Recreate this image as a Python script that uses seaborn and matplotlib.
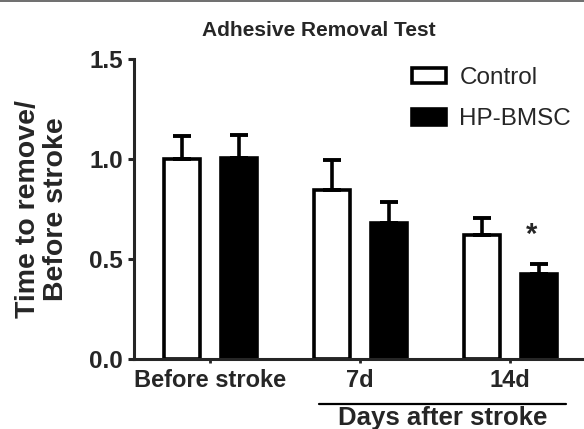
import numpy as np
import pandas as pd
import matplotlib
matplotlib.use("Agg")
import matplotlib.pyplot as plt
from matplotlib.patches import Patch
import matplotlib.transforms as mtransforms
import seaborn as sns

# values (mean and upper SEM)
groups = ["Before stroke", "7d", "14d"]
treatments = ["Control", "HP-BMSC"]
control_mean = [1.00, 0.845, 0.62]
control_sem = [0.115, 0.15, 0.085]
hp_mean = [1.005, 0.68, 0.425]
hp_sem = [0.115, 0.105, 0.05]
y_ticks = [0.0, 0.5, 1.0, 1.5]

df = pd.DataFrame({
    "group": groups * 2,
    "treatment": [treatments[0]] * 3 + [treatments[1]] * 3,
    "value": control_mean + hp_mean,
})

sns.set_style("ticks")
plt.rcParams["font.family"] = ["Liberation Sans", "DejaVu Sans"]

fig = plt.figure(figsize=(5.84, 4.29), dpi=100)
ax = fig.add_axes([134 / 584, 1 - 359 / 429, 1 - 134 / 584, 300 / 429])

palette = {"Control": "white", "HP-BMSC": "black"}
sns.barplot(data=df, x="group", y="value", hue="treatment", order=groups,
            hue_order=treatments, palette=palette, edgecolor="black",
            linewidth=2.6, width=0.76, gap=0.37, errorbar=None,
            legend=False, ax=ax)

# upward-only error bars at the bar centres
for cont, means, sems in zip(ax.containers, [control_mean, hp_mean],
                             [control_sem, hp_sem]):
    xs = [p.get_x() + p.get_width() / 2 for p in cont.patches]
    ax.errorbar(xs, means, yerr=[np.zeros(len(sems)), sems], fmt="none",
                ecolor="black", elinewidth=2.6, capsize=6.5, capthick=2.8,
                zorder=1)

# significance mark above 14d HP-BMSC
p14 = ax.containers[1].patches[2]
ax.text(p14.get_x() + p14.get_width() / 2 - 0.05, 0.62, "*", ha="center",
        va="center", fontsize=21, fontweight="bold")

ax.set_xlim(-0.507, 2.493)
ax.set_ylim(0, 1.5)
ax.set_yticks(y_ticks)
ax.set_yticklabels([f"{t:.1f}" for t in y_ticks])
ax.set_xlabel("")
ax.set_ylabel("Time to remove/\nBefore stroke", fontsize=20.5,
              fontweight="bold", va="center", linespacing=1.12)
ax.yaxis.set_label_coords(-0.205, 0.5)

sns.despine(ax=ax)
for s in ["left", "bottom"]:
    ax.spines[s].set_linewidth(2.2)
ax.tick_params(axis="y", length=4, width=2.2, pad=4, labelsize=17.5)
ax.tick_params(axis="x", length=3, width=2.0, pad=4, labelsize=17)
for lab in ax.get_xticklabels() + ax.get_yticklabels():
    lab.set_fontweight("bold")

# "Days after stroke" bracket under 7d and 14d
trans = mtransforms.blended_transform_factory(ax.transData, ax.transAxes)
ax.plot([0.727, 2.373], [-0.15, -0.15], color="black", lw=1.6,
        transform=trans, clip_on=False)
ax.text(1.553, -0.196, "Days after stroke", transform=trans, ha="center",
        va="center", fontsize=18.5, fontweight="bold")

handles = [Patch(facecolor="white", edgecolor="black", linewidth=2.6),
           Patch(facecolor="black", edgecolor="black", linewidth=2.6)]
fig.legend(handles, treatments, loc="upper left",
           bbox_to_anchor=(412 / 584, 1 - 67 / 429), frameon=False,
           fontsize=17.5, handlelength=1.4, handleheight=0.62,
           handletextpad=0.55, labelspacing=0.8, borderpad=0,
           borderaxespad=0)

fig.text(318.5 / 584, 1 - 30 / 429, "Adhesive Removal Test", ha="center",
         va="center", fontsize=15, fontweight="bold")

# thin frame line at the very top of the image
fig.add_artist(plt.Line2D([0, 1], [0.997, 0.997], color="#555555", lw=1.2))

fig.savefig("out.png", dpi=100)
